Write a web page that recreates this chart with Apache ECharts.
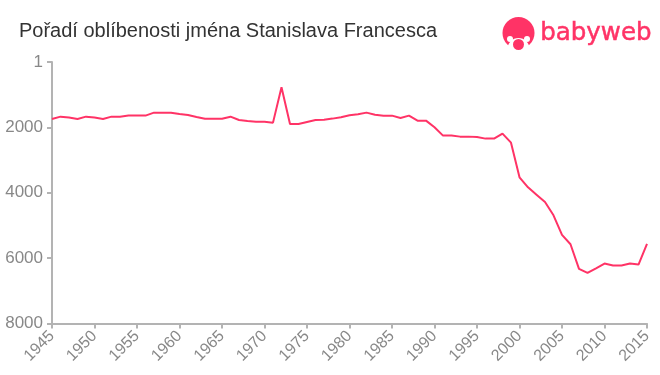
<!DOCTYPE html>
<html>
<head>
<meta charset="utf-8">
<style>
  html, body { margin: 0; padding: 0; background: #fff; }
  #chart { width: 660px; height: 375px; }
</style>
<script src="https://cdn.jsdelivr.net/npm/echarts@6/dist/echarts.min.js"></script>
</head>
<body>
<div id="chart"></div>
<script>
const years = [
  1945, 1946, 1947, 1948, 1949, 1950, 1951, 1952, 1953, 1954,
  1955, 1956, 1957, 1958, 1959, 1960, 1961, 1962, 1963, 1964,
  1965, 1966, 1967, 1968, 1969, 1970, 1971, 1972, 1973, 1974,
  1975, 1976, 1977, 1978, 1979, 1980, 1981, 1982, 1983, 1984,
  1985, 1986, 1987, 1988, 1989, 1990, 1991, 1992, 1993, 1994,
  1995, 1996, 1997, 1998, 1999, 2000, 2001, 2002, 2003, 2004,
  2005, 2006, 2007, 2008, 2009, 2010, 2011, 2012, 2013, 2014,
  2015
];
const ranks = [
  1743, 1672, 1700, 1743, 1672, 1700, 1743, 1672, 1672, 1640,
  1640, 1640, 1550, 1550, 1550, 1590, 1620, 1680, 1735, 1735,
  1735, 1672, 1775, 1805, 1825, 1825, 1855, 775, 1897, 1897,
  1835, 1775, 1765, 1732, 1692, 1631, 1600, 1549, 1611, 1641,
  1641, 1712, 1641, 1794, 1794, 1998, 2252, 2252, 2283, 2283,
  2293, 2344, 2344, 2191, 2467, 3527, 3834, 4058, 4283, 4690,
  5290, 5575, 6330, 6452, 6310, 6167, 6228, 6228, 6167, 6197,
  5565
];
const chartTitle = "Pořadí oblíbenosti jména Stanislava Francesca";
const logoText = "babyweb";
const pink = "#ff3366";
const axisGray = "#b3b3b3";
const labelGray = "#888";

const chart = echarts.init(document.getElementById("chart"));

chart.setOption({
  animation: false,
  title: {
    text: chartTitle,
    left: 14,
    top: 16,
    textStyle: {
      fontFamily: "Liberation Sans",
      fontSize: 20,
      fontWeight: "normal",
      color: "#333",
    },
  },
  grid: { left: 52, right: 13, top: 62, bottom: 51.5 },
  xAxis: {
    type: "value",
    position: "bottom",
    min: 1945,
    max: 2015,
    interval: 5,
    splitLine: { show: false },
    axisLine: { onZero: false, lineStyle: { color: axisGray, width: 2 } },
    axisTick: { length: 5, lineStyle: { color: axisGray, width: 2 } },
    axisLabel: {
      rotate: 45,
      margin: 10,
      align: "right",
      verticalAlign: "middle",
      fontFamily: "Liberation Sans",
      fontSize: 16,
      color: labelGray,
      showMinLabel: true,
      showMaxLabel: true,
      formatter: (v) => String(v),
    },
  },
  yAxis: {
    type: "value",
    inverse: true,
    min: 0,
    max: 8000,
    interval: 2000,
    splitLine: { show: false },
    axisLine: { show: true, lineStyle: { color: axisGray, width: 2 } },
    axisTick: { show: true, length: 5, lineStyle: { color: axisGray, width: 2 } },
    axisLabel: {
      margin: 9,
      fontFamily: "Liberation Sans",
      fontSize: 17,
      color: labelGray,
      // the rank scale starts at 1, not 0
      formatter: (v) => (v === 0 ? "1" : String(v)),
    },
  },
  series: [
    {
      type: "line",
      data: years.map((y, i) => [y, ranks[i]]),
      symbol: "none",
      lineStyle: { color: pink, width: 2 },
    },
  ],
  graphic: [
    { type: "circle", shape: { cx: 518.5, cy: 33, r: 16 }, style: { fill: pink } },
    { type: "circle", shape: { cx: 518.5, cy: 49, r: 11 }, style: { fill: "#fff" } },
    { type: "circle", shape: { cx: 510, cy: 39, r: 3 }, style: { fill: "#fff" } },
    { type: "circle", shape: { cx: 527, cy: 39, r: 3 }, style: { fill: "#fff" } },
    { type: "circle", shape: { cx: 518.5, cy: 44.5, r: 5.5 }, style: { fill: pink } },
    {
      type: "text",
      left: 540,
      top: 21,
      style: {
        text: logoText,
        fontFamily: "DejaVu Sans",
        fontSize: 24.5,
        fill: pink,
        stroke: pink,
        lineWidth: 0.5,
      },
    },
  ],
});
</script>
</body>
</html>
